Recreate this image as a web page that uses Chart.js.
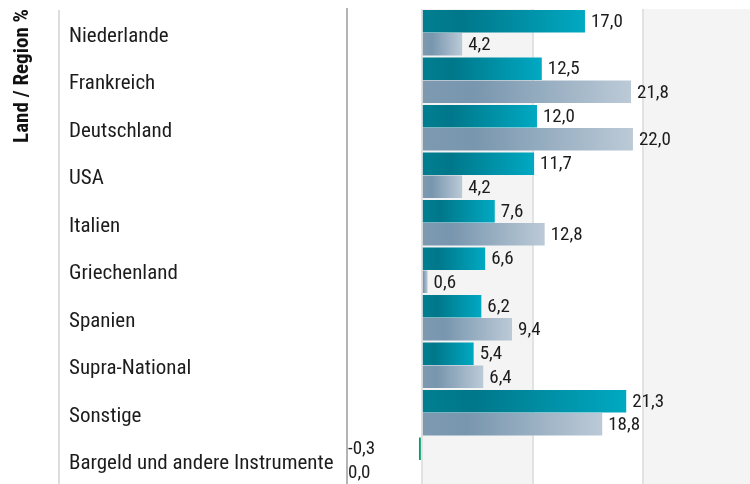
<!DOCTYPE html>
<html>
<head>
<meta charset="utf-8">
<script src="https://cdn.jsdelivr.net/npm/chart.js@4/dist/chart.umd.min.js"></script>
<style>
  html, body { margin: 0; padding: 0; background: #ffffff; }
  #wrap { width: 750px; height: 484px; position: relative; }
</style>
</head>
<body>
<div id="wrap"><canvas id="c"></canvas></div>
<script>
const categories = [
  'Niederlande', 'Frankreich', 'Deutschland', 'USA', 'Italien',
  'Griechenland', 'Spanien', 'Supra-National', 'Sonstige',
  'Bargeld und andere Instrumente'
];
const seriesA = [17.0, 12.5, 12.0, 11.7, 7.6, 6.6, 6.2, 5.4, 21.3, -0.3];
const seriesB = [4.2, 21.8, 22.0, 4.2, 12.8, 0.6, 9.4, 6.4, 18.8, 0.0];
const gridValues = [0, 11.55, 23.1];
const axisTitle = 'Land / Region %';

const FONT = "'Roboto Condensed', Roboto, 'Liberation Sans', sans-serif";
const LABEL_LEFT = 69;
const AXIS_RIGHT = 347;
const CAT_SIZE = 21;
const VAL_SIZE = 19;
const TITLE_SIZE = 21;
const TITLE_CENTER = 22.5;

function grad(stops, neg) {
  return function (ctx) {
    const chart = ctx.chart;
    const xs = chart.scales && chart.scales.x;
    const v = ctx.raw;
    if (v < 0) return neg;
    if (!xs || !chart.chartArea) return stops[stops.length - 1][1];
    const x0 = xs.getPixelForValue(0);
    let x1 = xs.getPixelForValue(v);
    if (!isFinite(x1) || x1 - x0 < 1) x1 = x0 + 1;
    const g = chart.ctx.createLinearGradient(x0, 0, x1, 0);
    stops.forEach(s => g.addColorStop(s[0], s[1]));
    return g;
  };
}

const tealStops = [[0, '#007f91'], [0.25, '#00778a'], [1, '#00a9c2']];
const greyStops = [[0, '#7d9ab1'], [0.25, '#7896ae'], [1, '#bccad7']];

const bandsPlugin = {
  id: 'bands',
  beforeDraw(chart) {
    const { ctx, chartArea } = chart;
    const xs = chart.scales.x;
    ctx.save();
    ctx.fillStyle = '#f4f4f4';
    const a = xs.getPixelForValue(gridValues[0]);
    const b = xs.getPixelForValue(gridValues[1]);
    const c = xs.getPixelForValue(gridValues[2]);
    ctx.fillRect(a, chartArea.top, b - a, chartArea.bottom - chartArea.top);
    ctx.fillRect(c, chartArea.top, chartArea.right - c, chartArea.bottom - chartArea.top);
    ctx.strokeStyle = '#dddddd';
    ctx.lineWidth = 2;
    ctx.beginPath();
    ctx.moveTo(59, chartArea.top + 1);
    ctx.lineTo(59, chartArea.bottom);
    ctx.stroke();
    ctx.restore();
  }
};

const labelsPlugin = {
  id: 'valueLabels',
  afterDatasetsDraw(chart) {
    const { ctx, chartArea } = chart;
    ctx.save();
    ctx.font = VAL_SIZE + 'px ' + FONT;
    ctx.fillStyle = '#1c1c1c';
    ctx.textBaseline = 'middle';
    chart.data.datasets.forEach((ds, di) => {
      const meta = chart.getDatasetMeta(di);
      meta.data.forEach((el, i) => {
        const v = ds.data[i];
        const txt = v.toFixed(1).replace('.', ',');
        const x = v > 0 ? el.x + 6 : chartArea.left + 1;
        ctx.textAlign = 'left';
        ctx.fillText(txt, x, el.y + 1);
      });
    });
    ctx.restore();
  }
};

const titleLineHeight = TITLE_SIZE * 1.2;
const titlePadTop = TITLE_CENTER - LABEL_LEFT - titleLineHeight / 2;

new Chart(document.getElementById('c'), {
  type: 'bar',
  data: {
    labels: categories,
    datasets: [
      { label: 'A', data: seriesA, backgroundColor: grad(tealStops, '#00a070'),
        categoryPercentage: 0.97, barPercentage: 0.975, borderWidth: 0 },
      { label: 'B', data: seriesB, backgroundColor: grad(greyStops, '#00a070'),
        categoryPercentage: 0.97, barPercentage: 0.975, borderWidth: 0 }
    ]
  },
  options: {
    indexAxis: 'y',
    responsive: true,
    maintainAspectRatio: false,
    animation: false,
    layout: { padding: { top: 9, left: LABEL_LEFT, right: 0, bottom: 0 } },
    plugins: {
      legend: { display: false },
      tooltip: { enabled: false }
    },
    scales: {
      x: {
        min: -7.8,
        max: 34.2,
        afterBuildTicks(scale) { scale.ticks = gridValues.map(v => ({ value: v })); },
        afterFit(scale) { scale.height = 0; scale.paddingLeft = 0; scale.paddingRight = 0; },
        ticks: { display: false },
        grid: { color: '#e2e2e2', lineWidth: 2, drawTicks: false },
        border: { display: false }
      },
      y: {
        afterFit(scale) { scale.width = AXIS_RIGHT - LABEL_LEFT; scale.paddingTop = 0; scale.paddingBottom = 0; },
        grid: { display: false, drawTicks: false },
        border: { display: true, color: '#b4b4b4', width: 2 },
        ticks: {
          crossAlign: 'far',
          padding: 8,
          labelOffset: 3.5,
          color: '#1c1c1c',
          font: { family: FONT, size: CAT_SIZE }
        },
        title: {
          display: true,
          text: axisTitle,
          align: 'end',
          color: '#111111',
          font: { family: FONT, size: TITLE_SIZE, weight: 'bold', lineHeight: 1.2 },
          padding: { top: titlePadTop, bottom: 0 }
        }
      }
    }
  },
  plugins: [bandsPlugin, labelsPlugin]
});
</script>
</body>
</html>
